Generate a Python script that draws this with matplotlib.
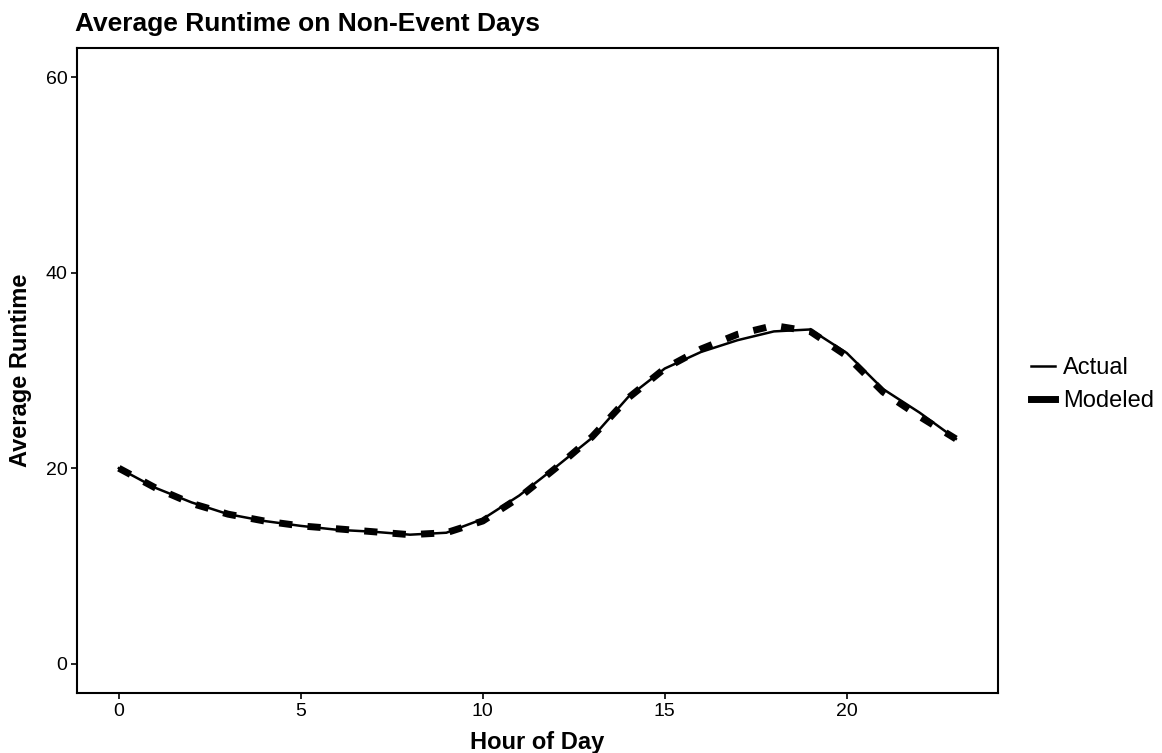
import matplotlib
matplotlib.use("Agg")
import matplotlib.pyplot as plt
from matplotlib.lines import Line2D

plt.rcParams['font.family'] = ['Liberation Sans', 'DejaVu Sans']

hours = list(range(24))
actual = [20.0, 18.0, 16.5, 15.3, 14.6, 14.1, 13.7, 13.5, 13.2, 13.4, 14.8, 17.2,
          20.1, 23.1, 27.3, 30.2, 31.9, 33.1, 34.0, 34.2, 31.8, 28.1, 25.7, 23.0]
modeled = [20.0, 18.0, 16.4, 15.3, 14.6, 14.1, 13.8, 13.5, 13.2, 13.4, 14.6, 17.0,
           20.0, 23.2, 27.2, 30.2, 32.2, 33.7, 34.6, 34.0, 31.5, 27.8, 25.3, 23.0]

x_ticks = [0, 5, 10, 15, 20]
y_ticks = [0, 20, 40, 60]

W, H = 1162, 753
fig = plt.figure(figsize=(W / 100, H / 100), dpi=100)
ax = fig.add_axes([77 / W, 1 - 693 / H, (997.7 - 77) / W, (693 - 48) / H])

ax.plot(hours, modeled, color='black', lw=5, dashes=(1.9, 2.2),
        dash_capstyle='butt', zorder=2)
ax.plot(hours, actual, color='black', lw=1.8, zorder=3)

ax.set_xlim(-1.15, 24.15)
ax.set_ylim(-3, 63)
ax.set_xticks(x_ticks)
ax.set_yticks(y_ticks)
ax.tick_params(direction='out', length=4, width=1.2, labelsize=14, colors='black', pad=3)
for s in ax.spines.values():
    s.set_linewidth(1.5)
    s.set_color('black')

ax.set_title('Average Runtime on Non-Event Days', loc='left', fontsize=19,
             fontweight='bold', pad=12, x=-0.002)
ax.set_xlabel('Hour of Day', fontsize=17, fontweight='bold', labelpad=8)
ax.set_ylabel('Average Runtime', fontsize=17, fontweight='bold', labelpad=10)

handles = [Line2D([], [], color='black', lw=1.8),
           Line2D([], [], color='black', lw=5)]
leg = fig.legend(handles, ['Actual', 'Modeled'], loc='center left',
                 bbox_to_anchor=(1031 / W, 1 - 384.5 / H), bbox_transform=fig.transFigure,
                 frameon=False, fontsize=17, handlelength=1.0, handletextpad=0.35,
                 labelspacing=0.45, borderaxespad=0, borderpad=0)

fig.savefig('out.png', dpi=100)
